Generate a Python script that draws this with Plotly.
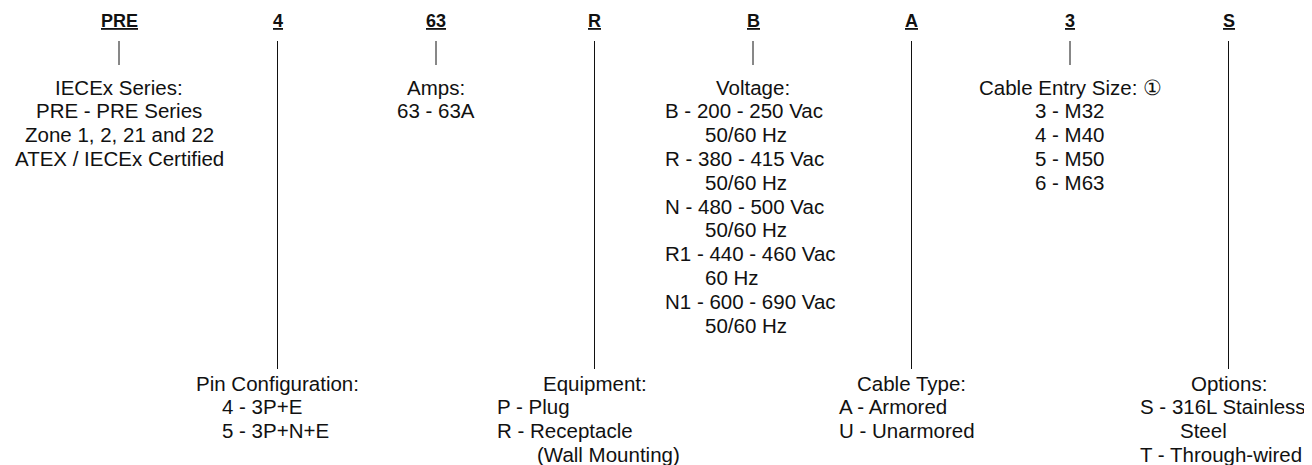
import plotly.graph_objects as go

# ---- data ----
codes = ["PRE", "4", "63", "R", "B", "A", "3", "S"]

titles = [
    "IECEx Series:",
    "Pin Configuration:",
    "Amps:",
    "Equipment:",
    "Voltage:",
    "Cable Type:",
    "Cable Entry Size: \u2460",
    "Options:",
]

# each option line: (text, is_continuation)
options = [
    [("PRE - PRE Series", 0), ("Zone 1, 2, 21 and 22", 0), ("ATEX / IECEx Certified", 0)],
    [("4 - 3P+E", 0), ("5 - 3P+N+E", 0)],
    [("63 - 63A", 0)],
    [("P - Plug", 0), ("R - Receptacle", 0), ("(Wall Mounting)", 1)],
    [("B - 200 - 250 Vac", 0), ("50/60 Hz", 1), ("R - 380 - 415 Vac", 0), ("50/60 Hz", 1),
     ("N - 480 - 500 Vac", 0), ("50/60 Hz", 1), ("R1 - 440 - 460 Vac", 0), ("60 Hz", 1),
     ("N1 - 600 - 690 Vac", 0), ("50/60 Hz", 1)],
    [("A - Armored", 0), ("U - Unarmored", 0)],
    [("3 - M32", 0), ("4 - M40", 0), ("5 - M50", 0), ("6 - M63", 0)],
    [("S - 316L Stainless", 0), ("Steel", 1), ("T - Through-wired", 0)],
]

# ---- layout constants (page pixel coordinates) ----
W, H = 1312, 465
PAGE_OFF = 8          # default browser body margin
col_x0, col_step = 119, 158.5
code_y = 21
line_top = 41
short_bottom = 65
long_bottom = 369
top_title_y = 87
bottom_title_y = 383
line_h = 23.8
cont_indent = 40
# left edge offset of option lines relative to column (None = centered)
item_offset = [None, -58, None, -100, -90, -75, -37, -91]

BODY = "Liberation Sans, Arial, Helvetica, sans-serif"
CODEF = "Liberation Sans Narrow, Arial Narrow, Liberation Sans, sans-serif"
INK = "#111111"
BODY_SIZE = 20.5

fig = go.Figure()

# connector lines
lx, ly = [], []
for i in range(len(codes)):
    cx = col_x0 + col_step * i
    lx += [cx, cx, None]
    ly += [line_top, short_bottom if i % 2 == 0 else long_bottom, None]
fig.add_trace(go.Scatter(x=lx, y=ly, mode="lines", line=dict(color=INK, width=1),
                         hoverinfo="skip", showlegend=False))

ann = []
for i, code in enumerate(codes):
    cx = col_x0 + col_step * i
    ann.append(dict(x=cx, y=code_y, text=f"<b><u>{code}</u></b>", showarrow=False,
                    xanchor="center", yanchor="middle",
                    font=dict(family=CODEF, size=18, color=INK)))
    ty = top_title_y if i % 2 == 0 else bottom_title_y
    ann.append(dict(x=cx, y=ty, text=titles[i], showarrow=False,
                    xanchor="center", yanchor="middle",
                    font=dict(family=BODY, size=BODY_SIZE, color=INK)))
    for k, (txt, cont) in enumerate(options[i]):
        y = ty + line_h * (k + 1)
        if item_offset[i] is None:
            x, xa = cx, "center"
        else:
            x, xa = cx + item_offset[i] + cont * cont_indent, "left"
        ann.append(dict(x=x, y=y, text=txt, showarrow=False,
                        xanchor=xa, yanchor="middle",
                        font=dict(family=BODY, size=BODY_SIZE, color=INK)))

fig.update_layout(
    width=W - PAGE_OFF, height=H - PAGE_OFF,
    margin=dict(l=0, r=0, t=0, b=0),
    paper_bgcolor="white", plot_bgcolor="white",
    xaxis=dict(range=[PAGE_OFF, W], visible=False, fixedrange=True),
    yaxis=dict(range=[H, PAGE_OFF], visible=False, fixedrange=True),
    annotations=ann,
    showlegend=False,
)

fig.write_html("out.html")
